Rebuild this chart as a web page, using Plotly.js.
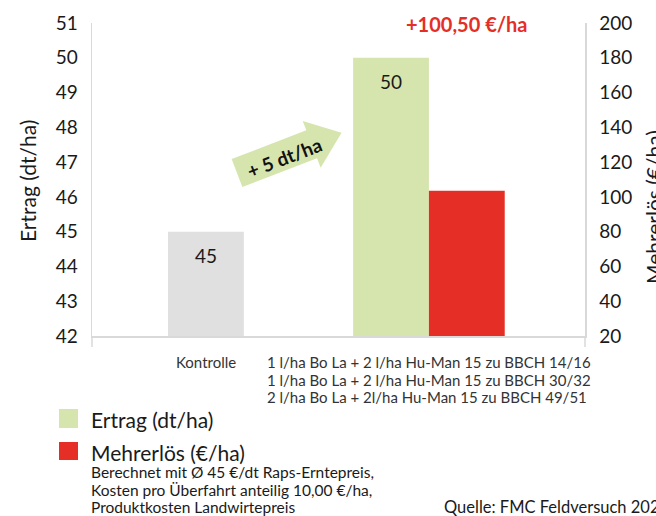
<!DOCTYPE html>
<html>
<head>
<meta charset="utf-8">
<script src="https://cdn.plot.ly/plotly-3.0.1.min.js"></script>
<style>
html,body{margin:0;padding:0;background:#fff;overflow:hidden;}
#chart{width:656px;height:516px;}
</style>
</head>
<body>
<div id="chart"></div>
<script>
// ---- data ----
const categories = ['Kontrolle', 'Behandlung'];
const categoryLabels = [
  'Kontrolle',
  '1 l/ha Bo La + 2 l/ha Hu-Man 15 zu BBCH 14/16<br>1 l/ha Bo La + 2 l/ha Hu-Man 15 zu BBCH 30/32<br>2 l/ha Bo La + 2l/ha Hu-Man 15 zu BBCH 49/51'
];
const ertragValues = [45, 50];           // dt/ha
const ertragColors = ['#e0e0e0', '#d6e5ae'];
const mehrerloesCategories = ['Behandlung'];
const mehrerloesValues = [103.5];        // €/ha (bar height as drawn)
const mehrerloesLabel = '+100,50 €/ha';
const arrowLabel = '+ 5 dt/ha';
const yLeftTicks = [42, 43, 44, 45, 46, 47, 48, 49, 50, 51];
const yRightTicks = [20, 40, 60, 80, 100, 120, 140, 160, 180, 200];
const legendNames = ['Ertrag (dt/ha)', 'Mehrerlös (€/ha)'];
const footnoteLines = [
  'Berechnet mit Ø 45 €/dt Raps-Erntepreis,',
  'Kosten pro Überfahrt anteilig 10,00 €/ha,',
  'Produktkosten Landwirtepreis'
];
const sourceText = 'Quelle: FMC Feldversuch 2022';

// ---- layout helpers ----
const W = 656, H = 516;
const M = {l: 92, r: 71, t: 23, b: 180};
const PW = W - M.l - M.r, PH = H - M.t - M.b;
const px = x => (x - M.l) / PW;
const py = y => (H - M.b - y) / PH;
const FONT = 'Lato, "Open Sans", sans-serif';
const TXT = '#1a1a1a';
const GREEN = '#d6e5ae', RED = '#e52f26', AXIS = '#d9d9d9';
const BW = 0.34;
const CATPX = 223; // pixels per category step

const traces = [
  {
    type: 'bar', x: categories, y: ertragValues, name: legendNames[0],
    marker: {color: ertragColors, line: {width: 0}},
    width: [BW, BW], offset: [-BW / 2, -BW],
    yaxis: 'y', showlegend: false, hoverinfo: 'none'
  },
  {
    type: 'bar', x: mehrerloesCategories, y: mehrerloesValues, name: legendNames[1],
    marker: {color: RED, line: {width: 0}},
    width: [BW], offset: [0],
    yaxis: 'y2', showlegend: false, hoverinfo: 'none'
  }
];

// arrow polygon (decoration)
function arrowPath(sx, sy, angDeg, bodyLen, totalLen, hBody, hHead) {
  const a = angDeg * Math.PI / 180;
  const ux = Math.cos(a), uy = Math.sin(a);
  const nx = -uy, ny = ux;
  const p = (along, perp) => [sx + ux * along + nx * perp, sy + uy * along + ny * perp];
  const pts = [p(0, -hBody), p(bodyLen, -hBody), p(bodyLen, -hHead), p(totalLen, 0),
               p(bodyLen, hHead), p(bodyLen, hBody), p(0, hBody)];
  return 'M ' + pts.map(q => px(q[0]).toFixed(4) + ',' + py(q[1]).toFixed(4)).join(' L ') + ' Z';
}

const shapes = [
  {type: 'path', xref: 'paper', yref: 'paper', path: arrowPath(237, 173, -21, 80, 112, 15, 25),
   fillcolor: GREEN, line: {width: 0}, layer: 'above'},
  // legend squares
  {type: 'rect', xref: 'paper', yref: 'paper', x0: px(59), x1: px(78), y0: py(428), y1: py(409),
   fillcolor: GREEN, line: {width: 0}},
  {type: 'rect', xref: 'paper', yref: 'paper', x0: px(59), x1: px(78), y0: py(460), y1: py(442),
   fillcolor: RED, line: {width: 0}},
  // axis line extensions below baseline
  {type: 'line', xref: 'paper', yref: 'paper', x0: 0, x1: 0, y0: 0, y1: py(347), line: {color: AXIS, width: 1.5}},
  {type: 'line', xref: 'paper', yref: 'paper', x0: 1, x1: 1, y0: 0, y1: py(347), line: {color: AXIS, width: 1.5}}
];

const annotations = [];
function ann(o) {
  annotations.push(Object.assign({showarrow: false, xanchor: 'center', yanchor: 'middle'}, o));
}
// bar value labels
ertragValues.forEach((v, i) => {
  ann({xref: 'x', yref: 'y', x: categories[i], xshift: i === 0 ? 0 : -BW / 2 * CATPX,
    y: v, yshift: -24, text: String(v), font: {family: FONT, size: 19, color: TXT}});
});
ann({xref: 'x', yref: 'paper', x: mehrerloesCategories[0], xshift: BW / 2 * CATPX, y: py(24),
  text: '<b>' + mehrerloesLabel + '</b>', font: {family: FONT, size: 20, color: RED}});
ann({xref: 'paper', yref: 'paper', x: px(284), y: py(157), text: '<b>' + arrowLabel + '</b>',
  textangle: -21, font: {family: FONT, size: 19, color: '#111'}});
// category labels
ann({xref: 'x', yref: 'paper', x: categories[0], y: py(362), text: categoryLabels[0],
  font: {family: FONT, size: 15, color: '#333'}});
categoryLabels[1].split('<br>').forEach((t, j) => {
  ann({xref: 'paper', yref: 'paper', x: px(265), xanchor: 'left', y: py(362 + j * 17.5), text: t,
    font: {family: FONT, size: 15, color: '#333'}});
});
// axis titles
ann({xref: 'paper', yref: 'paper', x: px(27), y: py(181), text: 'Ertrag (dt/ha)',
  textangle: -90, font: {family: FONT, size: 21, color: TXT}});
ann({xref: 'paper', yref: 'paper', x: px(653), y: py(207), text: 'Mehrerlös (€/ha)',
  textangle: -90, font: {family: FONT, size: 21, color: TXT}});
// legend texts
ann({xref: 'paper', yref: 'paper', x: px(89), y: py(419), xanchor: 'left', text: legendNames[0],
  font: {family: FONT, size: 21, color: TXT}});
ann({xref: 'paper', yref: 'paper', x: px(89), y: py(452), xanchor: 'left', text: legendNames[1],
  font: {family: FONT, size: 21, color: TXT}});
footnoteLines.forEach((t, i) => {
  ann({xref: 'paper', yref: 'paper', x: px(89), y: py(472 + i * 17.5), xanchor: 'left', text: t,
    font: {family: FONT, size: 15.5, color: TXT}});
});
ann({xref: 'paper', yref: 'paper', x: px(442), y: py(507), xanchor: 'left', text: sourceText,
  font: {family: FONT, size: 16.5, color: TXT}});

const layout = {
  width: W, height: H, margin: M,
  paper_bgcolor: '#fff', plot_bgcolor: '#fff',
  barmode: 'overlay', showlegend: false,
  font: {family: FONT, color: TXT},
  xaxis: {type: 'category', range: [-0.511, 1.70], showticklabels: false, ticks: '',
    showline: true, linecolor: AXIS, linewidth: 1.5, showgrid: false, zeroline: false, fixedrange: true},
  yaxis: {range: [42, 51], tickvals: yLeftTicks, showgrid: false, zeroline: false,
    showline: true, linecolor: AXIS, linewidth: 1.5, ticks: 'outside', ticklen: 9, tickcolor: 'rgba(0,0,0,0)',
    tickfont: {family: FONT, size: 19, color: TXT}},
  yaxis2: {range: [20, 200], tickvals: yRightTicks, overlaying: 'y', side: 'right', showgrid: false, zeroline: false,
    showline: true, linecolor: AXIS, linewidth: 1.5, ticks: 'outside', ticklen: 9, tickcolor: 'rgba(0,0,0,0)',
    tickfont: {family: FONT, size: 19, color: TXT}},
  shapes: shapes,
  annotations: annotations
};

Plotly.newPlot('chart', traces, layout, {staticPlot: true, displayModeBar: false});
</script>
</body>
</html>
